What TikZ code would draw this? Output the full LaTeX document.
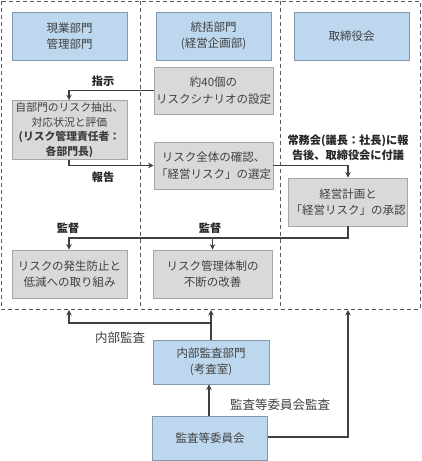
\documentclass[tikz,border=0pt]{standalone}
\usepackage{fontspec}
\setmainfont{Noto Sans CJK JP}
\usetikzlibrary{arrows.meta}
\definecolor{bluefill}{HTML}{BDD7EE}
\definecolor{blueline}{HTML}{8497B0}
\definecolor{grayfill}{HTML}{D9D9D9}
\definecolor{grayline}{HTML}{A6A6A6}
\definecolor{ink}{HTML}{404040}
\definecolor{frame}{HTML}{595959}
\tikzset{
  basebox/.style={draw, line width=0.8pt, text=ink, align=center, font=\fontsize{11.5}{16.5}\selectfont, inner sep=2pt},
  bluebox/.style={basebox, fill=bluefill, draw=blueline},
  graybox/.style={basebox, fill=grayfill, draw=grayline},
  conn/.style={draw=ink, line width=1.6pt, -{Stealth[length=5.5pt,width=5.5pt]}},
  boldlabel/.style={text=black!85, font=\fontsize{11.2}{15}\selectfont\bfseries, align=center, inner sep=0pt},
  normlabel/.style={text=ink, font=\fontsize{12.5}{15}\selectfont, align=center, inner sep=0pt},
  frameline/.style={draw=frame, line width=0.8pt, dash pattern=on 4pt off 3pt}
}
\begin{document}
\begin{tikzpicture}[x=1pt,y=-1pt]
\useasboundingbox (0,0) rectangle (421,461);
% frame
\draw[frameline] (1,1) rectangle (420,309);
\draw[frameline] (140,1) -- (140,309);
\draw[frameline] (280,1) -- (280,309);
% headers
\node[bluebox, minimum width=115pt, minimum height=48pt] (h1) at (69.5,36) {現業部門\\管理部門};
\node[bluebox, minimum width=115pt, minimum height=48pt] (h2) at (213.5,36) {統括部門\\(経営企画部)};
\node[bluebox, minimum width=115pt, minimum height=48pt] (h3) at (351.5,36.5) {取締役会};
% gray boxes
\node[graybox, minimum width=115pt, minimum height=47pt] (s1) at (213.5,90.5) {約40個の\\リスクシナリオの設定};
\node[graybox, minimum width=115pt, minimum height=56pt, font=\fontsize{10.8}{14.5}\selectfont] (a1) at (69.5,130) {自部門のリスク抽出、\\対応状況と評価\\\textbf{(リスク管理責任者：}\\\textbf{各部門長)}};
\node[graybox, minimum width=117pt, minimum height=47pt] (s2) at (213.5,165.5) {リスク全体の確認、\\「経営リスク」の選定};
\node[graybox, minimum width=114pt, minimum height=48pt] (r1) at (348,202) {経営計画と\\「経営リスク」の承認};
\node[graybox, minimum width=115pt, minimum height=48pt] (a2) at (69.5,274) {リスクの発生防止と\\低減への取り組み};
\node[graybox, minimum width=119pt, minimum height=48pt] (s3) at (212.5,274) {リスク管理体制の\\不断の改善};
% audit boxes
\node[bluebox, minimum width=116pt, minimum height=44pt] (ia) at (211,362) {内部監査部門\\(考査室)};
\node[bluebox, minimum width=115pt, minimum height=44pt] (ac) at (210,438) {監査等委員会};
% coordinates
\coordinate (fa) at (69,310);
\coordinate (fb) at (211,310);
\coordinate (fc) at (348,310);
% connectors
\draw[conn] (s1.west) -| (a1.north -| fa);
\draw[conn] (a1.south -| fa) |- (s2.west);
\draw[conn] (s2.east) -| (r1.north);
\draw[conn] (r1.south) |- (69,238) -- (a2.north -| fa);
\draw[conn] (s3.north |- 0,238) -- (s3.north);
\draw[conn] (ia.north -| fb) -- (fb);
\draw[conn] (211,323) -| (fa);
\draw[conn] (ac.north -| 209,0) -- (ia.south -| 209,0);
\draw[conn] (ac.east |- 0,437) -| (fc);
% labels
\node[boldlabel] (l1) at (103,81) {指示};
\node[boldlabel] (l2) at (103,177) {報告};
\node[boldlabel] (l3) at (348,148) {常務会(議長：社長)に報\\告後、取締役会に付議};
\node[boldlabel] (l4) at (68,228) {監督};
\node[boldlabel] (l5) at (210,228) {監督};
\node[normlabel] (l6) at (120,338) {内部監査};
\node[normlabel] (l7) at (280,405) {監査等委員会監査};
\end{tikzpicture}
\end{document}
